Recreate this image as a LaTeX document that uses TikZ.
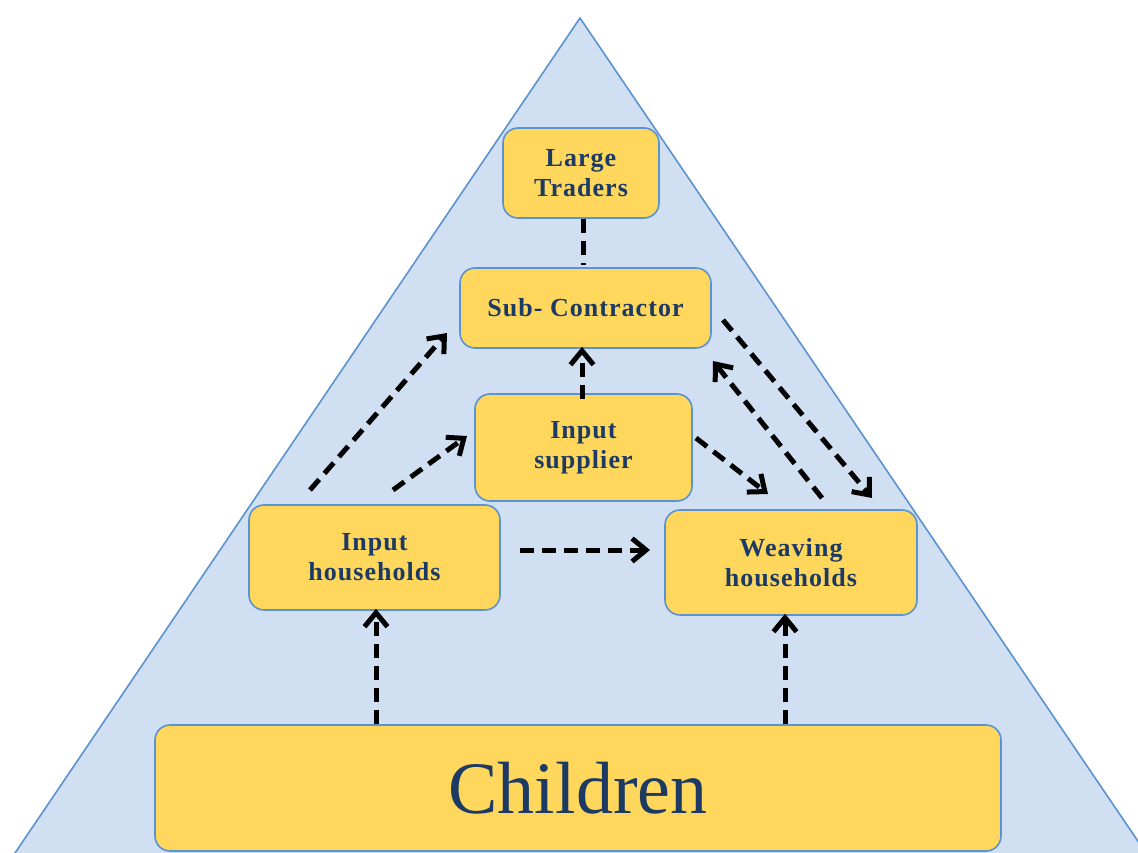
\documentclass[tikz,border=0pt]{standalone}
\usepackage{fontspec}
\setmainfont{Liberation Serif}
\newfontfamily\boxfont[LetterSpace=4]{Liberation Serif}
\usetikzlibrary{arrows.meta}
\definecolor{tri}{HTML}{D0E0F2}
\definecolor{edge}{HTML}{5B93D0}
\definecolor{gold}{HTML}{FFD75C}
\definecolor{navy}{HTML}{1C3A64}
\tikzset{
  box/.style={draw=edge, line width=1.6pt, fill=gold, rounded corners=15pt, inner sep=0pt,
    align=center, text=navy, font=\boxfont\bfseries\fontsize{26}{30}\selectfont},
  link/.style={line width=5pt, dash pattern=on 14pt off 8pt, black},
  arr/.style={link, -{Straight Barb[length=14pt,width=23pt,line width=5pt]}}
}
\begin{document}
\begin{tikzpicture}[x=1pt,y=-1pt]
\clip (0,0) rectangle (1138,853);
\useasboundingbox (0,0) rectangle (1138,853);
\fill[white] (0,0) rectangle (1138,853);
\filldraw[fill=tri, draw=edge, line width=1.6pt] (580,18) -- (13,856) -- (1148,856) -- cycle;

\node[box, minimum width=156pt, minimum height=90pt] (lt) at (581,173) {Large\\Traders};
\node[box, minimum width=251pt, minimum height=80pt] (sc) at (585.5,308) {Sub- Contractor};
\node[box, minimum width=217pt, minimum height=107pt] (is) at (583.5,447.5) {Input\\supplier};
\node[box, minimum width=251pt, minimum height=105pt] (ih) at (374.5,557.5) {Input\\households};
\node[box, minimum width=252pt, minimum height=105pt] (wh) at (791,562.5) {Weaving\\households};
\node[box, minimum width=846pt, minimum height=126pt, font=\fontsize{74}{80}\selectfont] (ch) at (578,788) {Children};

% connector end points
\coordinate (a1) at (583,265);
\coordinate (b1) at (310,490);
\coordinate (b2) at (447,333);
\coordinate (c1) at (393,490);
\coordinate (c2) at (467,436);
\coordinate (d1) at (696,438);
\coordinate (d2) at (768,494);
\coordinate (e1) at (822,498);
\coordinate (e2) at (713,361);
\coordinate (f1) at (723,320);
\coordinate (f2) at (872,498);
\coordinate (g1) at (520,550);
\coordinate (g2) at (650,550);

\draw[link] (lt.south -| a1) -- (a1);
\draw[arr] ([yshift=-6pt]is.north -| 582,0) -- ([yshift=2pt]sc.south -| 582,0);
\draw[arr] (b1) -- (b2);
\draw[arr] (c1) -- (c2);
\draw[arr] (d1) -- (d2);
\draw[arr] (e1) -- (e2);
\draw[arr] (f1) -- (f2);
\draw[arr] (g1) -- (g2);
\draw[arr] (ch.north -| 376,0) -- ([yshift=2pt]ih.south -| 376,0);
\draw[arr] (ch.north -| 785,0) -- ([yshift=2pt]wh.south -| 785,0);
\end{tikzpicture}
\end{document}
